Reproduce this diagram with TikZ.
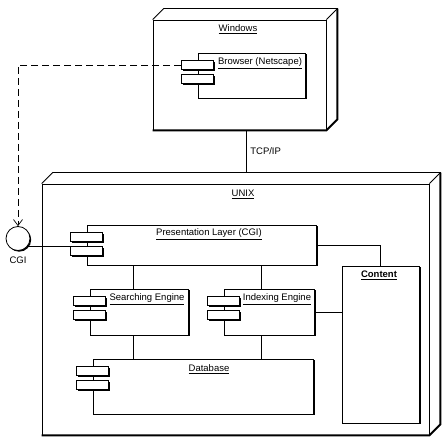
\documentclass[tikz,border=0pt]{standalone}
\usepackage{fontspec}
\setmainfont{Liberation Sans}
\usetikzlibrary{shadows,arrows.meta}

\tikzset{
    every node/.style={font=\fontsize{9.5}{11}\selectfont, inner sep=1pt},
    device/.style={draw, line width=0.8pt, fill=white, inner sep=0pt},
    comp/.style={draw, line width=0.8pt, fill=white, inner sep=0pt,
        drop shadow={shadow xshift=1.5pt, shadow yshift=-1.5pt, fill=black, opacity=1}},
    tab/.style={comp, minimum width=32pt, minimum height=9pt},
    iface/.style={circle, draw, line width=0.8pt, fill=white, minimum size=24pt,
        drop shadow={shadow xshift=1.2pt, shadow yshift=-1.2pt, fill=black, opacity=1}},
    link/.style={line width=0.7pt},
}

\begin{document}
\begin{tikzpicture}[x=1pt, y=-1pt]
    \useasboundingbox (0,0) rectangle (448,441);

    % Nodos (cara frontal)
    \node[device, minimum width=173pt, minimum height=110pt] (win) at (239.5,75) {};
    \node[device, minimum width=387pt, minimum height=251pt] (unix) at (235.5,309.5) {};

    % Profundidad de los nodos
    \foreach \n in {win, unix} {
        \draw[line width=0.8pt] (\n.north west) -- ++(11,-11)
            -- ([shift={(11pt,11pt)}]\n.north east)
            -- ([shift={(11pt,11pt)}]\n.south east) -- (\n.south east);
        \draw[line width=0.8pt] (\n.north east) -- ++(11,-11);
        \draw[line width=2pt] (\n.south west) -- (\n.south east)
            -- ([shift={(11pt,11pt)}]\n.south east)
            -- ([shift={(11pt,11pt)}]\n.north east);
    }

    % Nombres de los nodos
    \node (winl) at (238,29) {\underline{Windows}};
    \node (unixl) at (243,194) {\underline{UNIX}};

    % Componentes
    \node[comp, minimum width=107pt, minimum height=45pt] (brow) at (251.5,75.5) {};
    \node[comp, minimum width=229pt, minimum height=40pt] (pres) at (201.5,245) {};
    \node[comp, minimum width=98pt, minimum height=46pt] (srch) at (139,312) {};
    \node[comp, minimum width=90pt, minimum height=46pt] (indx) at (269,312) {};
    \node[comp, minimum width=220pt, minimum height=55pt] (dbase) at (203,386.5) {};
    \node[comp, minimum width=77pt, minimum height=157pt] (cont) at (380.5,344.5) {};

    % Pestañas de los componentes
    \foreach \c in {brow, pres, srch, indx, dbase} {
        \node[tab] (\c-t1) at ([yshift=-12.5pt]\c.north west) {};
        \node[tab] (\c-t2) at ([yshift=-26pt]\c.north west) {};
    }

    % Etiquetas
    \node (browl) at (260,63) {\underline{Browser (Netscape)}};
    \node (presl) at (209,234) {\underline{Presentation Layer (CGI)}};
    \node (srchl) at (147,299) {\underline{Searching Engine}};
    \node (indxl) at (277,299) {\underline{Indexing Engine}};
    \node (dbasel) at (209,369) {\underline{Database}};
    \node (contl) at (379,275) {\underline{\textbf{Content}}};

    % Interfaz CGI
    \node[iface] (cgi) at (18,238.5) {};
    \node (cgil) at (18,260) {CGI};

    % Conexiones
    \coordinate (unixback) at ([yshift=11pt]unix.north);
    \draw[link] ([xshift=6.5pt]win.south) -- ([xshift=6.5pt]win.south |- unixback)
        node[midway, right=3pt] {TCP/IP};
    \draw[link, dash pattern=on 7pt off 4pt, -{Straight Barb[length=6pt, width=9pt]}]
        (brow-t1.west) -| (cgi.north);
    \draw[link] (cgi.-40) -- (cgi.-40 -| pres-t2.west);
    \draw[link] (pres.east) -| (cont.north);
    \draw[link] (indx.east) -- (indx.east -| cont.west);
    \draw[link] ([xshift=-6pt]srch.north) -- ([xshift=-6pt]srch.north |- pres.south);
    \draw[link] ([xshift=-8pt]indx.north) -- ([xshift=-8pt]indx.north |- pres.south);
    \draw[link] ([xshift=-6pt]srch.south) -- ([xshift=-6pt]srch.south |- dbase.north);
    \draw[link] ([xshift=-8pt]indx.south) -- ([xshift=-8pt]indx.south |- dbase.north);
\end{tikzpicture}
\end{document}
